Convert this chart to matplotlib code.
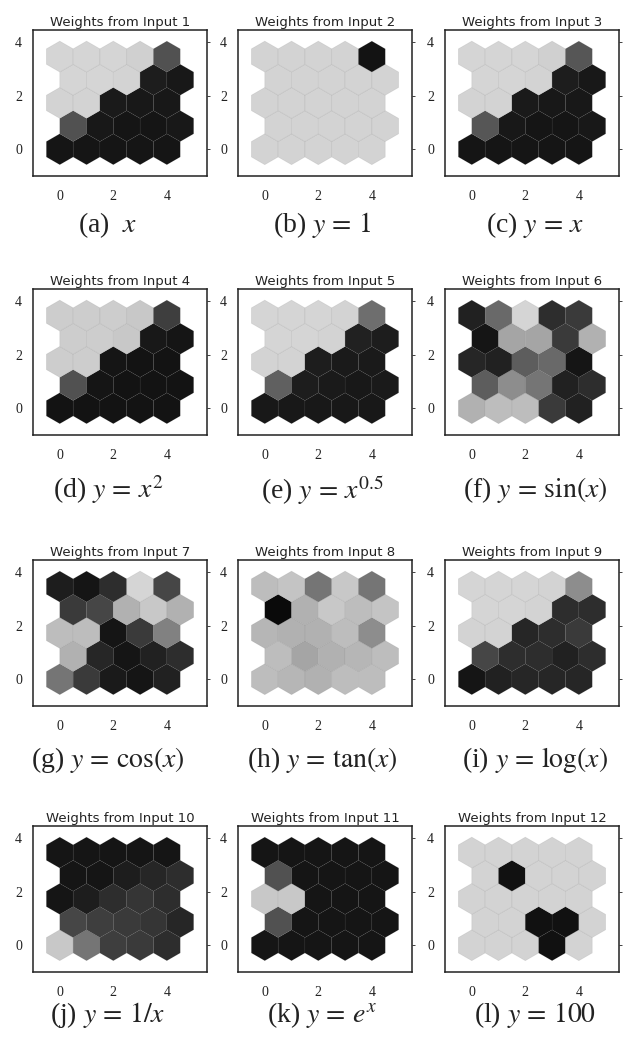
import numpy as np
import matplotlib.pyplot as plt
from matplotlib.collections import PatchCollection
from matplotlib.colors import LinearSegmentedColormap
from matplotlib.patches import RegularPolygon

plt.rcParams["mathtext.fontset"] = "stix"

# SOM weight planes on a 5x5 hexagonal grid, values 0 (dark) .. 1 (light).
# Each list is given row by row from the top row (row 4) down to row 0.
w1 = [[0.85, 0.85, 0.85, 0.83, 0.30],
      [0.85, 0.85, 0.84, 0.08, 0.06],
      [0.84, 0.84, 0.07, 0.06, 0.06],
      [0.30, 0.06, 0.05, 0.05, 0.06],
      [0.05, 0.05, 0.05, 0.05, 0.05]]
w2 = [[0.84, 0.84, 0.84, 0.84, 0.04],
      [0.84, 0.84, 0.84, 0.84, 0.84],
      [0.84, 0.84, 0.84, 0.84, 0.84],
      [0.84, 0.84, 0.84, 0.84, 0.84],
      [0.84, 0.84, 0.84, 0.84, 0.84]]
w3 = [[0.85, 0.85, 0.85, 0.83, 0.32],
      [0.85, 0.85, 0.84, 0.08, 0.06],
      [0.84, 0.84, 0.07, 0.06, 0.06],
      [0.32, 0.06, 0.05, 0.05, 0.06],
      [0.05, 0.05, 0.05, 0.05, 0.05]]
w4 = [[0.82, 0.82, 0.82, 0.80, 0.22],
      [0.82, 0.82, 0.80, 0.06, 0.05],
      [0.82, 0.82, 0.05, 0.04, 0.04],
      [0.30, 0.05, 0.04, 0.04, 0.04],
      [0.04, 0.04, 0.04, 0.04, 0.04]]
w5 = [[0.85, 0.85, 0.85, 0.84, 0.42],
      [0.85, 0.85, 0.84, 0.10, 0.08],
      [0.84, 0.84, 0.08, 0.07, 0.07],
      [0.36, 0.08, 0.07, 0.06, 0.07],
      [0.06, 0.06, 0.06, 0.06, 0.06]]
w6 = [[0.10, 0.40, 0.85, 0.15, 0.20],
      [0.05, 0.65, 0.65, 0.20, 0.70],
      [0.12, 0.10, 0.35, 0.40, 0.05],
      [0.35, 0.55, 0.45, 0.10, 0.15],
      [0.70, 0.75, 0.75, 0.20, 0.10]]
w7 = [[0.08, 0.05, 0.15, 0.85, 0.25],
      [0.20, 0.25, 0.70, 0.80, 0.70],
      [0.75, 0.75, 0.05, 0.20, 0.50],
      [0.70, 0.12, 0.05, 0.10, 0.15],
      [0.45, 0.20, 0.07, 0.05, 0.10]]
w8 = [[0.75, 0.78, 0.45, 0.80, 0.45],
      [0.00, 0.70, 0.80, 0.75, 0.78],
      [0.72, 0.70, 0.70, 0.75, 0.55],
      [0.75, 0.65, 0.70, 0.72, 0.75],
      [0.75, 0.72, 0.70, 0.75, 0.75]]
w9 = [[0.85, 0.85, 0.85, 0.84, 0.55],
      [0.85, 0.85, 0.84, 0.15, 0.15],
      [0.84, 0.84, 0.12, 0.15, 0.20],
      [0.25, 0.15, 0.15, 0.10, 0.15],
      [0.05, 0.10, 0.12, 0.12, 0.12]]
w10 = [[0.05, 0.05, 0.05, 0.05, 0.05],
       [0.05, 0.05, 0.08, 0.12, 0.15],
       [0.05, 0.08, 0.15, 0.18, 0.15],
       [0.25, 0.22, 0.20, 0.18, 0.12],
       [0.80, 0.45, 0.22, 0.20, 0.15]]
w11 = [[0.05, 0.05, 0.05, 0.05, 0.05],
       [0.30, 0.05, 0.05, 0.05, 0.05],
       [0.80, 0.80, 0.05, 0.05, 0.05],
       [0.30, 0.05, 0.05, 0.05, 0.05],
       [0.05, 0.05, 0.05, 0.05, 0.05]]
w12 = [[0.84, 0.84, 0.84, 0.84, 0.84],
       [0.84, 0.03, 0.84, 0.84, 0.84],
       [0.84, 0.84, 0.84, 0.84, 0.84],
       [0.84, 0.84, 0.03, 0.03, 0.84],
       [0.84, 0.84, 0.84, 0.03, 0.84]]

planes = [w1, w2, w3, w4, w5, w6, w7, w8, w9, w10, w11, w12]

titles = [f"Weights from Input {i}" for i in range(1, 13)]
captions = [
    r"(a)  $x$", r"(b) $y\,=\,1$", r"(c) $y\,=\,x$",
    r"(d) $y\,=\,x^2$", r"(e) $y\,=\,x^{0.5}$", r"(f) $y\,=\,\sin(x)$",
    r"(g) $y\,=\,\cos(x)$", r"(h) $y\,=\,\tan(x)$", r"(i) $y\,=\,\log(x)$",
    r"(j) $y\,=\,1/x$", r"(k) $y\,=\,e^x$", r"(l) $y\,=\,100$",
]
tick_vals = [0, 2, 4]

# layout in pixels
W, H = 632, 1041
col_left = [33, 238, 445]
row_top = [30, 289, 560, 826]
box_w, box_h = 174, 146
caption_x = [108, 322, 535]
caption_y = [225, 490, 760, 1015]

cmap = LinearSegmentedColormap.from_list("som_gray", ["#0a0a0a", "#f8f8f8"])

# hex grid centres (rows bottom to top, odd rows shifted half a cell)
n = 5
rows, cols = np.mgrid[0:n, 0:n]
cx = (cols + 0.5 * (rows % 2)).ravel()
cy = (rows * np.sqrt(3) / 2).ravel()

fig = plt.figure(figsize=(W / 100, H / 100), dpi=100)
fig.patch.set_facecolor("white")

for k, plane in enumerate(planes):
    r, c = divmod(k, 3)
    left = col_left[c] / W
    bottom = 1 - (row_top[r] + box_h) / H
    ax = fig.add_axes([left, bottom, box_w / W, box_h / H])

    vals = np.array(plane)[::-1].ravel()
    hexes = [RegularPolygon((x, y), numVertices=6, radius=1 / np.sqrt(3))
             for x, y in zip(cx, cy)]
    coll = PatchCollection(hexes, cmap=cmap, edgecolor=(0.3, 0.3, 0.3, 0.12),
                           linewidth=0.5)
    coll.set_array(vals)
    coll.set_clim(0, 1)
    ax.add_collection(coll)

    ax.set_xlim(-1, 5.5)
    ax.set_ylim(-1, 3 * np.sqrt(3) / 2 + 1.86)
    ax.set_xticks(tick_vals)
    ax.set_yticks(tick_vals)
    ax.tick_params(left=False, bottom=False, right=True, labelright=False,
                   direction="out", length=2, width=0.6, labelsize=10, pad=6,
                   colors="#222222")
    ax.tick_params(axis="x", pad=8)
    for lab in ax.get_xticklabels() + ax.get_yticklabels():
        lab.set_fontfamily("Liberation Serif")
    for sp in ax.spines.values():
        sp.set_linewidth(1.1)
        sp.set_color("#222222")

    ax.set_title(titles[k], fontsize=9.5, pad=3, color="#222222")

    fig.text(caption_x[c] / W, 1 - caption_y[r] / H, captions[k],
             ha="center", va="center", fontsize=20,
             fontfamily="Liberation Serif", color="#222222")

fig.savefig("out.png", dpi=100)
